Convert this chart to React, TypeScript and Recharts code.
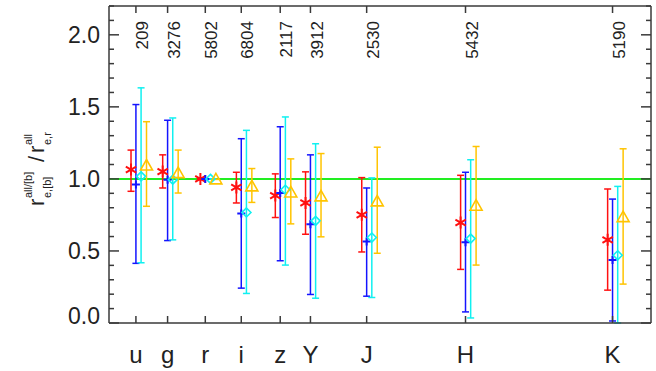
import React from 'react';
import { ComposedChart, Scatter, ErrorBar, XAxis, YAxis, ReferenceLine } from 'recharts';

// photometric bands, effective wavelength (A) and number of galaxies per band
const bands = ['u', 'g', 'r', 'i', 'z', 'Y', 'J', 'H', 'K'];
const wavelengths = [3543, 4770, 6231, 7625, 9134, 10305, 12483, 16313, 22010];
const counts = [209, 3276, 5802, 6804, 2117, 3912, 2530, 5432, 5190];

// red asterisks
const redVal = [1.065, 1.051, 1.0, 0.941, 0.884, 0.833, 0.751, 0.697, 0.577];
const redLo = [0.914, 0.937, 1.0, 0.833, 0.732, 0.616, 0.493, 0.372, 0.228];
const redHi = [1.2, 1.167, 1.0, 1.046, 1.035, 1.049, 1.009, 1.025, 0.93];
// blue plus signs
const blueVal = [0.962, 0.995, 1.0, 0.76, 0.902, 0.686, 0.565, 0.561, 0.437];
const blueLo = [0.414, 0.572, 1.0, 0.242, 0.432, 0.198, 0.186, 0.077, 0.014];
const blueHi = [1.516, 1.407, 1.0, 1.279, 1.362, 1.167, 0.937, 1.046, 0.86];
// cyan diamonds
const cyanVal = [1.018, 0.995, 1.0, 0.767, 0.925, 0.709, 0.593, 0.586, 0.47];
const cyanLo = [0.418, 0.577, 1.0, 0.205, 0.402, 0.172, 0.177, 0.035, 0.0];
const cyanHi = [1.632, 1.423, 1.0, 1.337, 1.43, 1.244, 1.007, 1.133, 0.948];
// orange triangles
const orangeVal = [1.093, 1.04, 0.997, 0.948, 0.906, 0.879, 0.844, 0.814, 0.735];
const orangeLo = [0.81, 0.902, 0.997, 0.837, 0.688, 0.598, 0.484, 0.402, 0.27];
const orangeHi = [1.397, 1.2, 0.997, 1.072, 1.139, 1.176, 1.22, 1.225, 1.209];

const yTicks = Array.from({ length: 23 }, (_, i) => i / 10);

const W = 656;
const H = 371;
const LEFT = 109;
const RIGHT = 651;
const TOP = 7;
const BOTTOM = 323;
const AXIS = '#3a3a3a';
const TEXT = '#222';
const FONT = '"Liberation Sans", Arial, Helvetica, sans-serif';

const RED = '#ff1010';
const BLUE = '#1414ff';
const CYAN = '#10f0f0';
const ORANGE = '#ffc400';

const makeSeries = (val: number[], lo: number[], hi: number[], shift: number) =>
    wavelengths.map((w, i) => ({
        x: w + shift,
        y: val[i],
        err: [val[i] - lo[i], hi[i] - val[i]],
    }));

const redData = makeSeries(redVal, redLo, redHi, -190);
const blueData = makeSeries(blueVal, blueLo, blueHi, 0);
const cyanData = makeSeries(cyanVal, cyanLo, cyanHi, 200);
const orangeData = makeSeries(orangeVal, orangeLo, orangeHi, 410);

const Asterisk = (p: any) => {
    const { cx, cy } = p;
    const r = 6;
    const dx = r * Math.cos(Math.PI / 6);
    const dy = r * Math.sin(Math.PI / 6);
    return (
        <path
            d={`M${cx},${cy - r}V${cy + r}M${cx - dx},${cy - dy}L${cx + dx},${cy + dy}M${cx - dx},${cy + dy}L${cx + dx},${cy - dy}`}
            stroke={RED}
            strokeWidth={2}
            fill="none"
        />
    );
};

const Plus = (p: any) => {
    const { cx, cy } = p;
    return <path d={`M${cx - 4},${cy}H${cx + 4}M${cx},${cy - 4}V${cy + 4}`} stroke={BLUE} strokeWidth={2} fill="none" />;
};

const Diamond = (p: any) => {
    const { cx, cy } = p;
    const r = 4.5;
    return (
        <polygon
            points={`${cx},${cy - r} ${cx + r},${cy} ${cx},${cy + r} ${cx - r},${cy}`}
            fill="none"
            stroke={CYAN}
            strokeWidth={1.6}
        />
    );
};

const Triangle = (p: any) => {
    const { cx, cy } = p;
    return (
        <polygon
            points={`${cx},${cy - 6} ${cx + 6},${cy + 4.5} ${cx - 6},${cy + 4.5}`}
            fill="none"
            stroke={ORANGE}
            strokeWidth={1.6}
        />
    );
};

const isMajor = (v: number) => Math.round(v * 10) % 5 === 0;

const LeftTick = (props: any) => {
    const { y, payload } = props;
    const v = payload.value;
    const major = isMajor(v);
    return (
        <g>
            <path d={`M${LEFT},${y}h${major ? 10 : 5}`} stroke={AXIS} strokeWidth={1.5} fill="none" />
            {major && (
                <text x={LEFT - 9} y={y + 8 - (v === 0 ? 7 : 0)} textAnchor="end" fontSize={23} fill={TEXT} fontFamily={FONT}>
                    {v.toFixed(1)}
                </text>
            )}
        </g>
    );
};

const RightTick = (props: any) => {
    const { y, payload } = props;
    const major = isMajor(payload.value);
    return (
        <g>
            <path d={`M${RIGHT},${y}h${major ? -10 : -5}`} stroke={AXIS} strokeWidth={1.5} fill="none" />
        </g>
    );
};

const BottomTick = (props: any) => {
    const { x, index } = props;
    return (
        <g>
            <path d={`M${x},${BOTTOM}v-7`} stroke={AXIS} strokeWidth={1.5} fill="none" />
            <text x={x} y={363} textAnchor="middle" fontSize={24} fill={TEXT} fontFamily={FONT}>
                {bands[index]}
            </text>
        </g>
    );
};

const YTitle = () => (
    <svg width={W} height={H} style={{ position: 'absolute', left: 0, top: 0, pointerEvents: 'none' }}>
        <g transform="translate(44,206) rotate(-90)" fill={TEXT} fontFamily={FONT}>
            <text x={0} y={0} fontSize={22}>r</text>
            <text x={8} y={-12} fontSize={11}>all/[b]</text>
            <text x={8} y={7} fontSize={11}>e,[b]</text>
            <text x={44} y={0} fontSize={22}>/</text>
            <text x={53} y={0} fontSize={22}>r</text>
            <text x={61} y={-12} fontSize={11}>all</text>
            <text x={61} y={7} fontSize={11}>e,r</text>
        </g>
    </svg>
);

const App = () => {
    const axisLine = { stroke: AXIS, strokeWidth: 1.5 };
    return (
        <div style={{ position: 'absolute', left: 0, top: 0, width: W, height: H, background: '#fff' }}>
            <ComposedChart width={W} height={H} margin={{ top: TOP - 1, right: 0, bottom: 0, left: 0 }}>
                <XAxis
                    xAxisId="b"
                    type="number"
                    dataKey="x"
                    domain={[2500, 23500]}
                    ticks={wavelengths}
                    interval={0}
                    height={H - BOTTOM}
                    axisLine={axisLine}
                    tickLine={false}
                    tick={(p: any) => <BottomTick {...p} />}
                    allowDataOverflow
                />
                <XAxis
                    xAxisId="t"
                    orientation="top"
                    mirror
                    type="number"
                    dataKey="x"
                    domain={[2500, 23500]}
                    ticks={wavelengths}
                    interval={0}
                    height={1}
                    axisLine={axisLine}
                    tickLine={{ stroke: AXIS, strokeWidth: 1.5 }}
                    tickSize={7}
                    tickMargin={8}
                    tickFormatter={(v: number) => String(counts[wavelengths.indexOf(v)])}
                    tick={{
                        angle: -90,
                        textAnchor: 'end',
                        verticalAnchor: 'middle',
                        fontSize: 17,
                        fill: TEXT,
                        fontFamily: FONT,
                    } as any}
                    allowDataOverflow
                />
                <YAxis
                    yAxisId="l"
                    type="number"
                    dataKey="y"
                    domain={[0, 2.2]}
                    ticks={yTicks}
                    interval={0}
                    width={LEFT}
                    axisLine={axisLine}
                    tickLine={false}
                    tick={(p: any) => <LeftTick {...p} />}
                    allowDataOverflow
                />
                <YAxis
                    yAxisId="r"
                    orientation="right"
                    type="number"
                    dataKey="y"
                    domain={[0, 2.2]}
                    ticks={yTicks}
                    interval={0}
                    width={W - RIGHT}
                    axisLine={axisLine}
                    tickLine={false}
                    tick={(p: any) => <RightTick {...p} />}
                    allowDataOverflow
                />
                <ReferenceLine xAxisId="b" yAxisId="l" y={1} stroke="#22ee22" strokeWidth={2} />
                <Scatter xAxisId="b" yAxisId="l" data={redData} shape={Asterisk} isAnimationActive={false}>
                    <ErrorBar dataKey="err" direction="y" width={3.5} stroke={RED} strokeWidth={1.5} />
                </Scatter>
                <Scatter xAxisId="b" yAxisId="l" data={blueData} shape={Plus} isAnimationActive={false}>
                    <ErrorBar dataKey="err" direction="y" width={3.5} stroke={BLUE} strokeWidth={1.5} />
                </Scatter>
                <Scatter xAxisId="b" yAxisId="l" data={cyanData} shape={Diamond} isAnimationActive={false}>
                    <ErrorBar dataKey="err" direction="y" width={3.5} stroke={CYAN} strokeWidth={1.5} />
                </Scatter>
                <Scatter xAxisId="b" yAxisId="l" data={orangeData} shape={Triangle} isAnimationActive={false}>
                    <ErrorBar dataKey="err" direction="y" width={3.5} stroke={ORANGE} strokeWidth={1.5} />
                </Scatter>
            </ComposedChart>
            <YTitle />
        </div>
    );
};

export default App;
